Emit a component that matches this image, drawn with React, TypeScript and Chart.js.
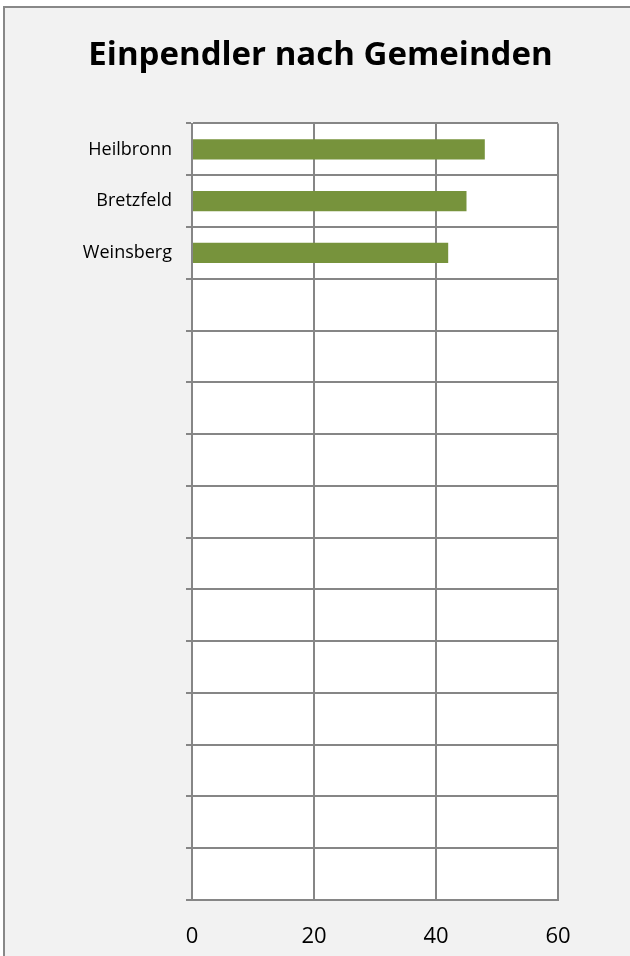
import React, { useEffect, useRef } from "react";
import { Chart, registerables } from "chart.js";

Chart.register(...registerables);

const TITLE = "Einpendler nach Gemeinden";
const categories: string[] = [
  "Heilbronn", "Bretzfeld", "Weinsberg",
  "", "", "", "", "", "", "", "", "", "", "", "",
];
const values: (number | null)[] = [
  48, 45, 42,
  null, null, null, null, null, null, null, null, null, null, null, null,
];
const xMin = 0;
const xMax = 60;
const xStep = 20;

const GRID = "#868686";
const BAR = "#77933C";
const FONT = "'Open Sans', 'Noto Sans', sans-serif";

const W = 630;
const H = 956;

export default function App() {
  const ref = useRef<HTMLCanvasElement | null>(null);

  useEffect(() => {
    document.body.style.margin = "0";
    const canvas = ref.current;
    if (!canvas) return;

    const bgPlugin = {
      id: "plotBg",
      beforeDraw(chart: any) {
        const { ctx, chartArea } = chart;
        ctx.save();
        ctx.fillStyle = "#ffffff";
        ctx.fillRect(chartArea.left, chartArea.top, chartArea.right - chartArea.left, chartArea.bottom - chartArea.top);
        ctx.restore();
      },
      afterDraw(chart: any) {
        const { ctx } = chart;
        ctx.save();
        ctx.fillStyle = "#000000";
        ctx.font = `bold 33px ${FONT}`;
        ctx.textAlign = "center";
        ctx.textBaseline = "alphabetic";
        ctx.fillText(TITLE, 320.5, 64.5);
        ctx.restore();
      },
    };

    const chart = new Chart(canvas, {
      type: "bar",
      data: {
        labels: categories,
        datasets: [
          {
            data: values as any,
            backgroundColor: BAR,
            borderWidth: 0,
            barPercentage: 0.39,
            categoryPercentage: 1,
          },
        ],
      },
      options: {
        indexAxis: "y",
        animation: false,
        responsive: false,
        devicePixelRatio: 1,
        layout: { padding: { top: 123.5, right: 72, bottom: 0, left: 0 } },
        plugins: {
          legend: { display: false },
          title: { display: false },
          tooltip: { enabled: false },
        },
        scales: {
          x: {
            position: "bottom",
            min: xMin,
            max: xMax,
            ticks: {
              stepSize: xStep,
              color: "#000000",
              font: { family: FONT, size: 22 },
              padding: 24,
              maxRotation: 0,
            },
            grid: { color: GRID, lineWidth: 2, drawTicks: false },
            border: { display: true, color: GRID, width: 2 },
            afterFit(scale: any) {
              scale.height = 56;
            },
          },
          y: {
            position: "left",
            ticks: {
              autoSkip: false,
              color: "#000000",
              font: { family: FONT, size: 18 },
              padding: 14,
            },
            grid: { color: GRID, lineWidth: 2, offset: true, drawTicks: true, tickLength: 6 },
            border: { display: true, color: GRID, width: 2 },
            afterFit(scale: any) {
              scale.width = 192;
            },
          },
        },
      },
      plugins: [bgPlugin],
    });

    return () => {
      chart.destroy();
    };
  }, []);

  return (
    <div style={{ position: "relative", width: W, height: H, overflow: "hidden", background: "#ffffff" }}>
      <div
        style={{
          position: "absolute",
          left: 3,
          top: 6,
          width: W + 10,
          height: H + 10,
          borderLeft: "2px solid #888888",
          borderTop: "2px solid #888888",
          background: "#f2f2f2",
        }}
      />
      <canvas
        ref={ref}
        width={W}
        height={H}
        style={{ position: "absolute", left: 0, top: 0, width: W, height: H }}
      />
    </div>
  );
}
